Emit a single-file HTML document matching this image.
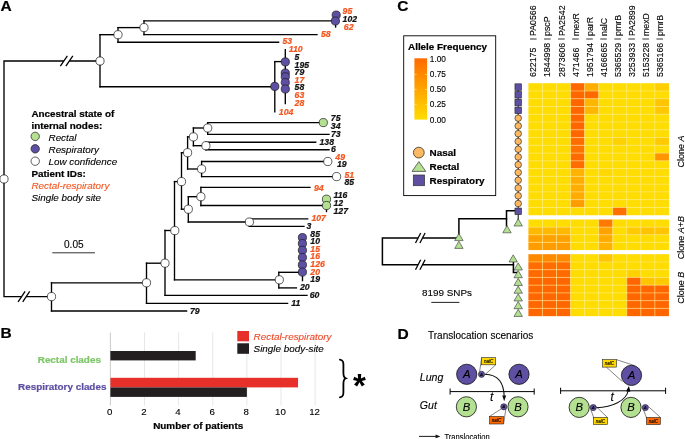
<!DOCTYPE html>
<html><head><meta charset="utf-8"><title>Figure</title>
<style>
html,body{margin:0;padding:0;background:#fff;}
body{width:685px;height:439px;overflow:hidden;}
svg{display:block;font-family:"Liberation Sans",sans-serif;will-change:transform;}
text{stroke-width:0.12px;} text[font-weight=bold]{stroke-width:0.22px;}
</style></head><body>
<svg width="685" height="439" viewBox="0 0 685 439">
<rect width="685" height="439" fill="#fff"/>
<text x="0.6" y="11.4" font-size="15.5" font-weight="bold" font-style="normal" fill="#000" stroke="#000" text-anchor="start" >A</text>
<polyline points="100,61 4,61 4,296.6 51.5,296.6" fill="none" stroke="#000" stroke-width="1.35" stroke-linejoin="miter" stroke-linecap="square"/>
<polyline points="100,34.7 100,86.7" fill="none" stroke="#000" stroke-width="1.35" stroke-linejoin="miter" stroke-linecap="square"/>
<polyline points="100,34.7 118,34.7" fill="none" stroke="#000" stroke-width="1.35" stroke-linejoin="miter" stroke-linecap="square"/>
<polyline points="118,27.6 118,42.2" fill="none" stroke="#000" stroke-width="1.35" stroke-linejoin="miter" stroke-linecap="square"/>
<polyline points="118,27.6 144,27.6" fill="none" stroke="#000" stroke-width="1.35" stroke-linejoin="miter" stroke-linecap="square"/>
<polyline points="144,20.8 144,34.6" fill="none" stroke="#000" stroke-width="1.35" stroke-linejoin="miter" stroke-linecap="square"/>
<polyline points="144,20.8 332,20.8" fill="none" stroke="#000" stroke-width="1.35" stroke-linejoin="miter" stroke-linecap="square"/>
<polyline points="144,34.6 317,34.6" fill="none" stroke="#000" stroke-width="1.35" stroke-linejoin="miter" stroke-linecap="square"/>
<polyline points="118,42.2 278.6,42.2" fill="none" stroke="#000" stroke-width="1.35" stroke-linejoin="miter" stroke-linecap="square"/>
<polyline points="100,86.7 274.8,86.7" fill="none" stroke="#000" stroke-width="1.35" stroke-linejoin="miter" stroke-linecap="square"/>
<polyline points="274.8,61.6 274.8,111.8" fill="none" stroke="#000" stroke-width="1.35" stroke-linejoin="miter" stroke-linecap="square"/>
<polyline points="274.8,61.6 285.3,61.6" fill="none" stroke="#000" stroke-width="1.35" stroke-linejoin="miter" stroke-linecap="square"/>
<polyline points="285.3,49.6 285.3,103.6" fill="none" stroke="#000" stroke-width="1.35" stroke-linejoin="miter" stroke-linecap="square"/>
<polyline points="335.6,14.6 335.6,27" fill="none" stroke="#000" stroke-width="1.35" stroke-linejoin="miter" stroke-linecap="square"/>
<rect x="63.849999999999994" y="59.5" width="5.5" height="3" fill="#fff"/>
<line x1="60.349999999999994" y1="66.2" x2="67.35" y2="55.8" stroke="#000" stroke-width="1.3"/>
<line x1="65.85" y1="66.2" x2="72.85" y2="55.8" stroke="#000" stroke-width="1.3"/>
<circle cx="100" cy="61" r="4.1" fill="#fff" stroke="#1a1a1a" stroke-width="0.7"/>
<circle cx="118" cy="34.7" r="4.1" fill="#fff" stroke="#1a1a1a" stroke-width="0.7"/>
<circle cx="144" cy="27.6" r="4.1" fill="#fff" stroke="#1a1a1a" stroke-width="0.7"/>
<circle cx="336.2" cy="15.1" r="4.1" fill="#5e4fa2" stroke="#1a1a1a" stroke-width="0.7"/>
<circle cx="335.4" cy="21" r="4.1" fill="#5e4fa2" stroke="#1a1a1a" stroke-width="0.7"/>
<circle cx="285.3" cy="61.9" r="4.1" fill="#5e4fa2" stroke="#1a1a1a" stroke-width="0.7"/>
<circle cx="285.3" cy="73" r="4.1" fill="#5e4fa2" stroke="#1a1a1a" stroke-width="0.7"/>
<circle cx="285.3" cy="76.8" r="4.1" fill="#5e4fa2" stroke="#1a1a1a" stroke-width="0.7"/>
<circle cx="285.3" cy="82.6" r="4.1" fill="#5e4fa2" stroke="#1a1a1a" stroke-width="0.7"/>
<circle cx="285.3" cy="89" r="4.1" fill="#5e4fa2" stroke="#1a1a1a" stroke-width="0.7"/>
<circle cx="274.8" cy="86.4" r="4.1" fill="#5e4fa2" stroke="#1a1a1a" stroke-width="0.7"/>
<text x="342.6" y="13.700000000000001" font-size="8.7" font-weight="bold" font-style="italic" fill="#f4561f" stroke="#f4561f" text-anchor="start" >95</text>
<text x="342.6" y="21.9" font-size="8.7" font-weight="bold" font-style="italic" fill="#111" stroke="#111" text-anchor="start" >102</text>
<text x="343.8" y="30.2" font-size="8.7" font-weight="bold" font-style="italic" fill="#f4561f" stroke="#f4561f" text-anchor="start" >62</text>
<text x="321" y="37.0" font-size="8.7" font-weight="bold" font-style="italic" fill="#f4561f" stroke="#f4561f" text-anchor="start" >58</text>
<text x="282.4" y="44.4" font-size="8.7" font-weight="bold" font-style="italic" fill="#f4561f" stroke="#f4561f" text-anchor="start" >53</text>
<text x="288.8" y="52.4" font-size="8.7" font-weight="bold" font-style="italic" fill="#f4561f" stroke="#f4561f" text-anchor="start" >110</text>
<text x="294.6" y="59.699999999999996" font-size="8.7" font-weight="bold" font-style="italic" fill="#111" stroke="#111" text-anchor="start" >5</text>
<text x="294.6" y="67.60000000000001" font-size="8.7" font-weight="bold" font-style="italic" fill="#111" stroke="#111" text-anchor="start" >195</text>
<text x="294.6" y="75.0" font-size="8.7" font-weight="bold" font-style="italic" fill="#111" stroke="#111" text-anchor="start" >79</text>
<text x="294.6" y="82.60000000000001" font-size="8.7" font-weight="bold" font-style="italic" fill="#f4561f" stroke="#f4561f" text-anchor="start" >17</text>
<text x="294.6" y="90.4" font-size="8.7" font-weight="bold" font-style="italic" fill="#111" stroke="#111" text-anchor="start" >58</text>
<text x="294.6" y="98.2" font-size="8.7" font-weight="bold" font-style="italic" fill="#f4561f" stroke="#f4561f" text-anchor="start" >63</text>
<text x="294.6" y="105.80000000000001" font-size="8.7" font-weight="bold" font-style="italic" fill="#f4561f" stroke="#f4561f" text-anchor="start" >28</text>
<text x="278.8" y="114.60000000000001" font-size="8.7" font-weight="bold" font-style="italic" fill="#f4561f" stroke="#f4561f" text-anchor="start" >104</text>
<polyline points="51.5,282.8 51.5,311" fill="none" stroke="#000" stroke-width="1.35" stroke-linejoin="miter" stroke-linecap="square"/>
<polyline points="51.5,282.8 146.5,282.8" fill="none" stroke="#000" stroke-width="1.35" stroke-linejoin="miter" stroke-linecap="square"/>
<polyline points="51.5,311 186.6,311" fill="none" stroke="#000" stroke-width="1.35" stroke-linejoin="miter" stroke-linecap="square"/>
<polyline points="146.5,263.2 146.5,303.3" fill="none" stroke="#000" stroke-width="1.35" stroke-linejoin="miter" stroke-linecap="square"/>
<polyline points="146.5,263.2 165,263.2" fill="none" stroke="#000" stroke-width="1.35" stroke-linejoin="miter" stroke-linecap="square"/>
<polyline points="146.5,303.3 287.6,303.3" fill="none" stroke="#000" stroke-width="1.35" stroke-linejoin="miter" stroke-linecap="square"/>
<polyline points="165,230.5 165,295.4" fill="none" stroke="#000" stroke-width="1.35" stroke-linejoin="miter" stroke-linecap="square"/>
<polyline points="165,230.5 174.5,230.5" fill="none" stroke="#000" stroke-width="1.35" stroke-linejoin="miter" stroke-linecap="square"/>
<polyline points="165,295.4 307,295.4" fill="none" stroke="#000" stroke-width="1.35" stroke-linejoin="miter" stroke-linecap="square"/>
<polyline points="174.5,181.6 174.5,279.8" fill="none" stroke="#000" stroke-width="1.35" stroke-linejoin="miter" stroke-linecap="square"/>
<polyline points="174.5,279.8 279,279.8" fill="none" stroke="#000" stroke-width="1.35" stroke-linejoin="miter" stroke-linecap="square"/>
<polyline points="278.8,272.3 278.8,287.9" fill="none" stroke="#000" stroke-width="1.35" stroke-linejoin="miter" stroke-linecap="square"/>
<polyline points="278.8,272.3 302.5,272.3" fill="none" stroke="#000" stroke-width="1.35" stroke-linejoin="miter" stroke-linecap="square"/>
<polyline points="302.5,237 302.5,280.6" fill="none" stroke="#000" stroke-width="1.35" stroke-linejoin="miter" stroke-linecap="square"/>
<polyline points="278.8,287.9 296.4,287.9" fill="none" stroke="#000" stroke-width="1.35" stroke-linejoin="miter" stroke-linecap="square"/>
<polyline points="174.5,181.6 181.5,181.6" fill="none" stroke="#000" stroke-width="1.35" stroke-linejoin="miter" stroke-linecap="square"/>
<polyline points="181.5,152.7 181.5,209.2" fill="none" stroke="#000" stroke-width="1.35" stroke-linejoin="miter" stroke-linecap="square"/>
<polyline points="181.5,152.7 187.6,152.7" fill="none" stroke="#000" stroke-width="1.35" stroke-linejoin="miter" stroke-linecap="square"/>
<polyline points="187.6,136.9 187.6,169" fill="none" stroke="#000" stroke-width="1.35" stroke-linejoin="miter" stroke-linecap="square"/>
<polyline points="187.6,136.9 193.4,136.9" fill="none" stroke="#000" stroke-width="1.35" stroke-linejoin="miter" stroke-linecap="square"/>
<polyline points="193.4,128 193.4,145.7" fill="none" stroke="#000" stroke-width="1.35" stroke-linejoin="miter" stroke-linecap="square"/>
<polyline points="193.4,128 207.7,128" fill="none" stroke="#000" stroke-width="1.35" stroke-linejoin="miter" stroke-linecap="square"/>
<polyline points="207.7,122.6 207.7,134.4" fill="none" stroke="#000" stroke-width="1.35" stroke-linejoin="miter" stroke-linecap="square"/>
<polyline points="207.7,122.6 323,122.6" fill="none" stroke="#000" stroke-width="1.35" stroke-linejoin="miter" stroke-linecap="square"/>
<polyline points="207.7,134.4 329,134.4" fill="none" stroke="#000" stroke-width="1.35" stroke-linejoin="miter" stroke-linecap="square"/>
<polyline points="193.4,145.7 205.9,145.7" fill="none" stroke="#000" stroke-width="1.35" stroke-linejoin="miter" stroke-linecap="square"/>
<polyline points="205.9,142.2 205.9,149.7" fill="none" stroke="#000" stroke-width="1.35" stroke-linejoin="miter" stroke-linecap="square"/>
<polyline points="205.9,142.2 315.7,142.2" fill="none" stroke="#000" stroke-width="1.35" stroke-linejoin="miter" stroke-linecap="square"/>
<polyline points="205.9,149.7 329,149.7" fill="none" stroke="#000" stroke-width="1.35" stroke-linejoin="miter" stroke-linecap="square"/>
<polyline points="187.6,169 201.6,169" fill="none" stroke="#000" stroke-width="1.35" stroke-linejoin="miter" stroke-linecap="square"/>
<polyline points="201.6,161.5 201.6,176.6" fill="none" stroke="#000" stroke-width="1.35" stroke-linejoin="miter" stroke-linecap="square"/>
<polyline points="201.6,161.5 327.8,161.5" fill="none" stroke="#000" stroke-width="1.35" stroke-linejoin="miter" stroke-linecap="square"/>
<polyline points="201.6,176.6 336.6,176.6" fill="none" stroke="#000" stroke-width="1.35" stroke-linejoin="miter" stroke-linecap="square"/>
<polyline points="181.5,209.2 188.3,209.2" fill="none" stroke="#000" stroke-width="1.35" stroke-linejoin="miter" stroke-linecap="square"/>
<polyline points="188.3,196.7 188.3,222" fill="none" stroke="#000" stroke-width="1.35" stroke-linejoin="miter" stroke-linecap="square"/>
<polyline points="188.3,196.7 200.9,196.7" fill="none" stroke="#000" stroke-width="1.35" stroke-linejoin="miter" stroke-linecap="square"/>
<polyline points="200.9,187.4 200.9,205.5" fill="none" stroke="#000" stroke-width="1.35" stroke-linejoin="miter" stroke-linecap="square"/>
<polyline points="200.9,187.4 310,187.4" fill="none" stroke="#000" stroke-width="1.35" stroke-linejoin="miter" stroke-linecap="square"/>
<polyline points="200.9,205.5 326.5,205.5" fill="none" stroke="#000" stroke-width="1.35" stroke-linejoin="miter" stroke-linecap="square"/>
<polyline points="326.5,199 326.5,211.5" fill="none" stroke="#000" stroke-width="1.35" stroke-linejoin="miter" stroke-linecap="square"/>
<polyline points="188.3,222 249.4,222" fill="none" stroke="#000" stroke-width="1.35" stroke-linejoin="miter" stroke-linecap="square"/>
<polyline points="249.4,218.8 249.4,226.3" fill="none" stroke="#000" stroke-width="1.35" stroke-linejoin="miter" stroke-linecap="square"/>
<polyline points="249.4,218.8 307.7,218.8" fill="none" stroke="#000" stroke-width="1.35" stroke-linejoin="miter" stroke-linecap="square"/>
<polyline points="249.4,226.3 304,226.3" fill="none" stroke="#000" stroke-width="1.35" stroke-linejoin="miter" stroke-linecap="square"/>
<rect x="21.599999999999998" y="295.1" width="4.6" height="3" fill="#fff"/>
<line x1="18.099999999999998" y1="301.8" x2="25.099999999999998" y2="291.40000000000003" stroke="#000" stroke-width="1.3"/>
<line x1="22.7" y1="301.8" x2="29.7" y2="291.40000000000003" stroke="#000" stroke-width="1.3"/>
<circle cx="4" cy="179" r="4.1" fill="#fff" stroke="#1a1a1a" stroke-width="0.7"/>
<circle cx="51.5" cy="296.6" r="4.1" fill="#fff" stroke="#1a1a1a" stroke-width="0.7"/>
<circle cx="146.5" cy="282.8" r="4.1" fill="#fff" stroke="#1a1a1a" stroke-width="0.7"/>
<circle cx="165" cy="263.2" r="4.1" fill="#fff" stroke="#1a1a1a" stroke-width="0.7"/>
<circle cx="174.8" cy="230.6" r="4.1" fill="#fff" stroke="#1a1a1a" stroke-width="0.7"/>
<circle cx="279.3" cy="279.8" r="4.1" fill="#fff" stroke="#1a1a1a" stroke-width="0.7"/>
<circle cx="181.5" cy="181.6" r="4.1" fill="#fff" stroke="#1a1a1a" stroke-width="0.7"/>
<circle cx="187.6" cy="152.7" r="4.1" fill="#fff" stroke="#1a1a1a" stroke-width="0.7"/>
<circle cx="193.4" cy="136.9" r="4.1" fill="#fff" stroke="#1a1a1a" stroke-width="0.7"/>
<circle cx="207.7" cy="128" r="4.1" fill="#fff" stroke="#1a1a1a" stroke-width="0.7"/>
<circle cx="205.9" cy="145.7" r="4.1" fill="#fff" stroke="#1a1a1a" stroke-width="0.7"/>
<circle cx="201.6" cy="169" r="4.1" fill="#fff" stroke="#1a1a1a" stroke-width="0.7"/>
<circle cx="188.3" cy="209.2" r="4.1" fill="#fff" stroke="#1a1a1a" stroke-width="0.7"/>
<circle cx="200.9" cy="196.7" r="4.1" fill="#fff" stroke="#1a1a1a" stroke-width="0.7"/>
<circle cx="249.4" cy="222" r="4.1" fill="#fff" stroke="#1a1a1a" stroke-width="0.7"/>
<circle cx="323.3" cy="122.6" r="4.1" fill="#b4e092" stroke="#1a1a1a" stroke-width="0.7"/>
<circle cx="327.8" cy="161.5" r="4.1" fill="#fff" stroke="#1a1a1a" stroke-width="0.7"/>
<circle cx="336.6" cy="176.6" r="4.1" fill="#fff" stroke="#1a1a1a" stroke-width="0.7"/>
<circle cx="326.5" cy="199.2" r="4.1" fill="#b4e092" stroke="#1a1a1a" stroke-width="0.7"/>
<circle cx="326.5" cy="205.5" r="4.1" fill="#b4e092" stroke="#1a1a1a" stroke-width="0.7"/>
<circle cx="302.4" cy="237.6" r="4.1" fill="#5e4fa2" stroke="#1a1a1a" stroke-width="0.7"/>
<circle cx="302.4" cy="243.6" r="4.1" fill="#5e4fa2" stroke="#1a1a1a" stroke-width="0.7"/>
<circle cx="302.4" cy="250.3" r="4.1" fill="#5e4fa2" stroke="#1a1a1a" stroke-width="0.7"/>
<circle cx="302.4" cy="257.5" r="4.1" fill="#5e4fa2" stroke="#1a1a1a" stroke-width="0.7"/>
<circle cx="302.4" cy="264.9" r="4.1" fill="#5e4fa2" stroke="#1a1a1a" stroke-width="0.7"/>
<circle cx="302.4" cy="272.1" r="4.1" fill="#5e4fa2" stroke="#1a1a1a" stroke-width="0.7"/>
<text x="330.8" y="120.80000000000001" font-size="8.7" font-weight="bold" font-style="italic" fill="#111" stroke="#111" text-anchor="start" >75</text>
<text x="330.8" y="128.9" font-size="8.7" font-weight="bold" font-style="italic" fill="#111" stroke="#111" text-anchor="start" >34</text>
<text x="331" y="136.6" font-size="8.7" font-weight="bold" font-style="italic" fill="#111" stroke="#111" text-anchor="start" >73</text>
<text x="319.5" y="144.6" font-size="8.7" font-weight="bold" font-style="italic" fill="#111" stroke="#111" text-anchor="start" >138</text>
<text x="331" y="152.4" font-size="8.7" font-weight="bold" font-style="italic" fill="#111" stroke="#111" text-anchor="start" >6</text>
<text x="335.3" y="159.9" font-size="8.7" font-weight="bold" font-style="italic" fill="#f4561f" stroke="#f4561f" text-anchor="start" >49</text>
<text x="337" y="167.4" font-size="8.7" font-weight="bold" font-style="italic" fill="#111" stroke="#111" text-anchor="start" >19</text>
<text x="344.4" y="177.8" font-size="8.7" font-weight="bold" font-style="italic" fill="#f4561f" stroke="#f4561f" text-anchor="start" >51</text>
<text x="344.4" y="185.20000000000002" font-size="8.7" font-weight="bold" font-style="italic" fill="#111" stroke="#111" text-anchor="start" >85</text>
<text x="314" y="190.8" font-size="8.7" font-weight="bold" font-style="italic" fill="#f4561f" stroke="#f4561f" text-anchor="start" >94</text>
<text x="333.5" y="198.0" font-size="8.7" font-weight="bold" font-style="italic" fill="#111" stroke="#111" text-anchor="start" >116</text>
<text x="333.5" y="205.9" font-size="8.7" font-weight="bold" font-style="italic" fill="#111" stroke="#111" text-anchor="start" >12</text>
<text x="333.5" y="213.8" font-size="8.7" font-weight="bold" font-style="italic" fill="#111" stroke="#111" text-anchor="start" >127</text>
<text x="311.4" y="221.0" font-size="8.7" font-weight="bold" font-style="italic" fill="#f4561f" stroke="#f4561f" text-anchor="start" >107</text>
<text x="306.4" y="229.0" font-size="8.7" font-weight="bold" font-style="italic" fill="#111" stroke="#111" text-anchor="start" >3</text>
<text x="310.3" y="236.70000000000002" font-size="8.7" font-weight="bold" font-style="italic" fill="#111" stroke="#111" text-anchor="start" >85</text>
<text x="310.3" y="244.28000000000003" font-size="8.7" font-weight="bold" font-style="italic" fill="#111" stroke="#111" text-anchor="start" >10</text>
<text x="310.3" y="251.86" font-size="8.7" font-weight="bold" font-style="italic" fill="#f4561f" stroke="#f4561f" text-anchor="start" >15</text>
<text x="310.3" y="259.44" font-size="8.7" font-weight="bold" font-style="italic" fill="#f4561f" stroke="#f4561f" text-anchor="start" >16</text>
<text x="310.3" y="267.02" font-size="8.7" font-weight="bold" font-style="italic" fill="#f4561f" stroke="#f4561f" text-anchor="start" >126</text>
<text x="310.3" y="274.59999999999997" font-size="8.7" font-weight="bold" font-style="italic" fill="#f4561f" stroke="#f4561f" text-anchor="start" >20</text>
<text x="310.3" y="282.18" font-size="8.7" font-weight="bold" font-style="italic" fill="#111" stroke="#111" text-anchor="start" >19</text>
<text x="300" y="290.0" font-size="8.7" font-weight="bold" font-style="italic" fill="#111" stroke="#111" text-anchor="start" >20</text>
<text x="309.7" y="298.4" font-size="8.7" font-weight="bold" font-style="italic" fill="#111" stroke="#111" text-anchor="start" >60</text>
<text x="291.3" y="306.0" font-size="8.7" font-weight="bold" font-style="italic" fill="#111" stroke="#111" text-anchor="start" >11</text>
<text x="190" y="313.9" font-size="8.7" font-weight="bold" font-style="italic" fill="#111" stroke="#111" text-anchor="start" >79</text>
<text x="31.4" y="116.8" font-size="9.9" font-weight="bold" font-style="normal" fill="#000" stroke="#000" text-anchor="start" >Ancestral state of</text>
<text x="31.4" y="128.8" font-size="9.9" font-weight="bold" font-style="normal" fill="#000" stroke="#000" text-anchor="start" >internal nodes:</text>
<circle cx="35.2" cy="136.4" r="4.2" fill="#b4e092" stroke="#1a1a1a" stroke-width="0.7"/>
<text x="48.5" y="140.6" font-size="9.9" font-weight="normal" font-style="italic" fill="#000" stroke="#000" text-anchor="start" >Rectal</text>
<circle cx="35.2" cy="148.8" r="4.2" fill="#5e4fa2" stroke="#1a1a1a" stroke-width="0.7"/>
<text x="48.5" y="152.7" font-size="9.9" font-weight="normal" font-style="italic" fill="#000" stroke="#000" text-anchor="start" >Respiratory</text>
<circle cx="35.2" cy="161.2" r="4.2" fill="#fff" stroke="#1a1a1a" stroke-width="0.7"/>
<text x="48.5" y="164.8" font-size="9.9" font-weight="normal" font-style="italic" fill="#000" stroke="#000" text-anchor="start" >Low confidence</text>
<text x="31.4" y="176.8" font-size="9.9" font-weight="bold" font-style="normal" fill="#000" stroke="#000" text-anchor="start" >Patient IDs:</text>
<text x="31.4" y="188.6" font-size="9.9" font-weight="normal" font-style="italic" fill="#f4561f" stroke="#f4561f" text-anchor="start" >Rectal-respiratory</text>
<text x="31.4" y="200.6" font-size="9.9" font-weight="normal" font-style="italic" fill="#000" stroke="#000" text-anchor="start" >Single body site</text>
<text x="73.8" y="248.2" font-size="10.1" font-weight="normal" font-style="normal" fill="#000" stroke="#000" text-anchor="middle" >0.05</text>
<line x1="52.3" y1="252.8" x2="95" y2="252.8" stroke="#333" stroke-width="1.0"/>
<text x="0.6" y="338.4" font-size="15.5" font-weight="bold" font-style="normal" fill="#000" stroke="#000" text-anchor="start" >B</text>
<line x1="110.4" y1="332.5" x2="110.4" y2="405.5" stroke="#b4b4b4" stroke-width="0.7"/>
<text x="109.80000000000001" y="414.8" font-size="9.7" font-weight="normal" font-style="normal" fill="#000" stroke="#000" text-anchor="middle" >0</text>
<line x1="144.52" y1="332.5" x2="144.52" y2="405.5" stroke="#dcdcdc" stroke-width="0.7"/>
<text x="143.92000000000002" y="414.8" font-size="9.7" font-weight="normal" font-style="normal" fill="#000" stroke="#000" text-anchor="middle" >2</text>
<line x1="178.64" y1="332.5" x2="178.64" y2="405.5" stroke="#dcdcdc" stroke-width="0.7"/>
<text x="178.04" y="414.8" font-size="9.7" font-weight="normal" font-style="normal" fill="#000" stroke="#000" text-anchor="middle" >4</text>
<line x1="212.76" y1="332.5" x2="212.76" y2="405.5" stroke="#dcdcdc" stroke-width="0.7"/>
<text x="212.16" y="414.8" font-size="9.7" font-weight="normal" font-style="normal" fill="#000" stroke="#000" text-anchor="middle" >6</text>
<line x1="246.88" y1="332.5" x2="246.88" y2="405.5" stroke="#dcdcdc" stroke-width="0.7"/>
<text x="246.28" y="414.8" font-size="9.7" font-weight="normal" font-style="normal" fill="#000" stroke="#000" text-anchor="middle" >8</text>
<line x1="281.0" y1="332.5" x2="281.0" y2="405.5" stroke="#dcdcdc" stroke-width="0.7"/>
<text x="280.4" y="414.8" font-size="9.7" font-weight="normal" font-style="normal" fill="#000" stroke="#000" text-anchor="middle" >10</text>
<line x1="315.12" y1="332.5" x2="315.12" y2="405.5" stroke="#dcdcdc" stroke-width="0.7"/>
<text x="314.52" y="414.8" font-size="9.7" font-weight="normal" font-style="normal" fill="#000" stroke="#000" text-anchor="middle" >12</text>
<rect x="110.4" y="351" width="85.3" height="9.4" fill="#231f20"/>
<rect x="110.4" y="377.8" width="187.66" height="9.6" fill="#e8302a"/>
<rect x="110.4" y="387.4" width="136.48" height="9.5" fill="#231f20"/>
<text x="100.9" y="363.1" font-size="9.9" font-weight="bold" font-style="normal" fill="#7dc768" stroke="#7dc768" text-anchor="end" >Rectal clades</text>
<text x="106.4" y="390" font-size="9.9" font-weight="bold" font-style="normal" fill="#5e4fa2" stroke="#5e4fa2" text-anchor="end" >Respiratory clades</text>
<text x="198.2" y="429" font-size="9.9" font-weight="bold" font-style="normal" fill="#000" stroke="#000" text-anchor="middle" >Number of patients</text>
<rect x="237.3" y="331" width="11.7" height="10.3" fill="#e8302a"/>
<rect x="237.3" y="343.3" width="11.7" height="10.5" fill="#231f20"/>
<text x="253.6" y="339.8" font-size="9.9" font-weight="normal" font-style="italic" fill="#ee4a2a" stroke="#ee4a2a" text-anchor="start" >Rectal-respiratory</text>
<text x="253.6" y="352.4" font-size="9.9" font-weight="normal" font-style="italic" fill="#000" stroke="#000" text-anchor="start" >Single body-site</text>
<path d="M339.9,359.7 C344.2,360.3 343.4,364 343.4,369 L343.4,372.6 C343.4,376.2 344.0,377.7 345.6,378.3 C344.0,378.9 343.4,380.4 343.4,384 L343.4,388 C343.4,393 344.2,396.7 339.9,397.3" fill="none" stroke="#000" stroke-width="1.8" stroke-linecap="round"/>
<text x="359.3" y="396.6" font-size="33" font-weight="bold" font-style="normal" fill="#000" stroke="#000" text-anchor="middle" style="stroke-width:0">*</text>
<text x="397.2" y="11.4" font-size="15.5" font-weight="bold" font-style="normal" fill="#000" stroke="#000" text-anchor="start" >C</text>
<rect x="403.7" y="35.8" width="92" height="159.8" fill="#fff" stroke="#000" stroke-width="0.9"/>
<text x="408" y="49.8" font-size="9.9" font-weight="bold" font-style="normal" fill="#000" stroke="#000" text-anchor="start" >Allele Frequency</text>
<defs><linearGradient id="g" x1="0" y1="0" x2="0" y2="1"><stop offset="0" stop-color="#ff6a00"/><stop offset="1" stop-color="#ffdd00"/></linearGradient></defs>
<rect x="414.4" y="58.3" width="12.7" height="61.3" fill="url(#g)"/>
<text x="429.8" y="62.099999999999994" font-size="8.3" font-weight="normal" font-style="normal" fill="#000" stroke="#000" text-anchor="start" >1.00</text>
<text x="429.8" y="77.19999999999999" font-size="8.3" font-weight="normal" font-style="normal" fill="#000" stroke="#000" text-anchor="start" >0.75</text>
<line x1="414.4" y1="74.39999999999999" x2="416.6" y2="74.39999999999999" stroke="#ffe9a0" stroke-width="0.6"/>
<line x1="424.9" y1="74.39999999999999" x2="427.1" y2="74.39999999999999" stroke="#ffe9a0" stroke-width="0.6"/>
<text x="429.8" y="92.3" font-size="8.3" font-weight="normal" font-style="normal" fill="#000" stroke="#000" text-anchor="start" >0.50</text>
<line x1="414.4" y1="89.5" x2="416.6" y2="89.5" stroke="#ffe9a0" stroke-width="0.6"/>
<line x1="424.9" y1="89.5" x2="427.1" y2="89.5" stroke="#ffe9a0" stroke-width="0.6"/>
<text x="429.8" y="107.39999999999999" font-size="8.3" font-weight="normal" font-style="normal" fill="#000" stroke="#000" text-anchor="start" >0.25</text>
<line x1="414.4" y1="104.6" x2="416.6" y2="104.6" stroke="#ffe9a0" stroke-width="0.6"/>
<line x1="424.9" y1="104.6" x2="427.1" y2="104.6" stroke="#ffe9a0" stroke-width="0.6"/>
<text x="429.8" y="122.49999999999999" font-size="8.3" font-weight="normal" font-style="normal" fill="#000" stroke="#000" text-anchor="start" >0.00</text>
<circle cx="418.8" cy="152.6" r="5.4" fill="#fdb863" stroke="#1a1a1a" stroke-width="0.7"/>
<text x="429.6" y="156.4" font-size="9.9" font-weight="bold" font-style="normal" fill="#000" stroke="#000" text-anchor="start" >Nasal</text>
<polygon points="418.9,161.6 425.8,171.4 412,171.4" fill="#b4e092" stroke="#333" stroke-width="0.7"/>
<text x="429.6" y="170" font-size="9.9" font-weight="bold" font-style="normal" fill="#000" stroke="#000" text-anchor="start" >Rectal</text>
<rect x="413.3" y="175" width="11.3" height="10.7" fill="#5e4fa2" stroke="#333" stroke-width="0.7"/>
<text x="429.6" y="183.9" font-size="9.9" font-weight="bold" font-style="normal" fill="#000" stroke="#000" text-anchor="start" >Respiratory</text>
<rect x="528.40" y="83.20" width="14.10" height="7.81" fill="#ffdd00"/>
<rect x="542.45" y="83.20" width="14.10" height="7.81" fill="#ffdd00"/>
<rect x="556.50" y="83.20" width="14.10" height="7.81" fill="#ffdd00"/>
<rect x="570.55" y="83.20" width="14.10" height="7.81" fill="#ff6600"/>
<rect x="584.60" y="83.20" width="14.10" height="7.81" fill="#ffad00"/>
<rect x="598.65" y="83.20" width="14.10" height="7.81" fill="#ffdd00"/>
<rect x="612.70" y="83.20" width="14.10" height="7.81" fill="#ffdd00"/>
<rect x="626.75" y="83.20" width="14.10" height="7.81" fill="#ffdd00"/>
<rect x="640.80" y="83.20" width="14.10" height="7.81" fill="#ffdd00"/>
<rect x="654.85" y="83.20" width="14.10" height="7.81" fill="#ffcf00"/>
<rect x="528.40" y="90.96" width="14.10" height="7.81" fill="#ffdd00"/>
<rect x="542.45" y="90.96" width="14.10" height="7.81" fill="#ffdd00"/>
<rect x="556.50" y="90.96" width="14.10" height="7.81" fill="#ffdd00"/>
<rect x="570.55" y="90.96" width="14.10" height="7.81" fill="#ff6600"/>
<rect x="584.60" y="90.96" width="14.10" height="7.81" fill="#ff6a00"/>
<rect x="598.65" y="90.96" width="14.10" height="7.81" fill="#ffdd00"/>
<rect x="612.70" y="90.96" width="14.10" height="7.81" fill="#ffdd00"/>
<rect x="626.75" y="90.96" width="14.10" height="7.81" fill="#ffdd00"/>
<rect x="640.80" y="90.96" width="14.10" height="7.81" fill="#ffdd00"/>
<rect x="654.85" y="90.96" width="14.10" height="7.81" fill="#ffdd00"/>
<rect x="528.40" y="98.73" width="14.10" height="7.81" fill="#ffdd00"/>
<rect x="542.45" y="98.73" width="14.10" height="7.81" fill="#ffdd00"/>
<rect x="556.50" y="98.73" width="14.10" height="7.81" fill="#ffdd00"/>
<rect x="570.55" y="98.73" width="14.10" height="7.81" fill="#ff6600"/>
<rect x="584.60" y="98.73" width="14.10" height="7.81" fill="#ffb600"/>
<rect x="598.65" y="98.73" width="14.10" height="7.81" fill="#ffdd00"/>
<rect x="612.70" y="98.73" width="14.10" height="7.81" fill="#ffdd00"/>
<rect x="626.75" y="98.73" width="14.10" height="7.81" fill="#ffdd00"/>
<rect x="640.80" y="98.73" width="14.10" height="7.81" fill="#ffdd00"/>
<rect x="654.85" y="98.73" width="14.10" height="7.81" fill="#ffc500"/>
<rect x="528.40" y="106.49" width="14.10" height="7.81" fill="#ffdd00"/>
<rect x="542.45" y="106.49" width="14.10" height="7.81" fill="#ffdd00"/>
<rect x="556.50" y="106.49" width="14.10" height="7.81" fill="#ffdd00"/>
<rect x="570.55" y="106.49" width="14.10" height="7.81" fill="#ff6600"/>
<rect x="584.60" y="106.49" width="14.10" height="7.81" fill="#ffb600"/>
<rect x="598.65" y="106.49" width="14.10" height="7.81" fill="#ffdd00"/>
<rect x="612.70" y="106.49" width="14.10" height="7.81" fill="#ffdd00"/>
<rect x="626.75" y="106.49" width="14.10" height="7.81" fill="#ffdd00"/>
<rect x="640.80" y="106.49" width="14.10" height="7.81" fill="#ffdd00"/>
<rect x="654.85" y="106.49" width="14.10" height="7.81" fill="#ffc800"/>
<rect x="528.40" y="114.26" width="14.10" height="7.81" fill="#ffdd00"/>
<rect x="542.45" y="114.26" width="14.10" height="7.81" fill="#ffdd00"/>
<rect x="556.50" y="114.26" width="14.10" height="7.81" fill="#ffdd00"/>
<rect x="570.55" y="114.26" width="14.10" height="7.81" fill="#ff6600"/>
<rect x="584.60" y="114.26" width="14.10" height="7.81" fill="#ffdd00"/>
<rect x="598.65" y="114.26" width="14.10" height="7.81" fill="#ffdd00"/>
<rect x="612.70" y="114.26" width="14.10" height="7.81" fill="#ffdd00"/>
<rect x="626.75" y="114.26" width="14.10" height="7.81" fill="#ffdd00"/>
<rect x="640.80" y="114.26" width="14.10" height="7.81" fill="#ffdd00"/>
<rect x="654.85" y="114.26" width="14.10" height="7.81" fill="#ffdd00"/>
<rect x="528.40" y="122.02" width="14.10" height="7.81" fill="#ffdd00"/>
<rect x="542.45" y="122.02" width="14.10" height="7.81" fill="#ffdd00"/>
<rect x="556.50" y="122.02" width="14.10" height="7.81" fill="#ffdd00"/>
<rect x="570.55" y="122.02" width="14.10" height="7.81" fill="#ff6600"/>
<rect x="584.60" y="122.02" width="14.10" height="7.81" fill="#ffdd00"/>
<rect x="598.65" y="122.02" width="14.10" height="7.81" fill="#ffdd00"/>
<rect x="612.70" y="122.02" width="14.10" height="7.81" fill="#ffdd00"/>
<rect x="626.75" y="122.02" width="14.10" height="7.81" fill="#ffdd00"/>
<rect x="640.80" y="122.02" width="14.10" height="7.81" fill="#ffdd00"/>
<rect x="654.85" y="122.02" width="14.10" height="7.81" fill="#ffdd00"/>
<rect x="528.40" y="129.79" width="14.10" height="7.81" fill="#ffdd00"/>
<rect x="542.45" y="129.79" width="14.10" height="7.81" fill="#ffdd00"/>
<rect x="556.50" y="129.79" width="14.10" height="7.81" fill="#ffdd00"/>
<rect x="570.55" y="129.79" width="14.10" height="7.81" fill="#ff6600"/>
<rect x="584.60" y="129.79" width="14.10" height="7.81" fill="#ffdd00"/>
<rect x="598.65" y="129.79" width="14.10" height="7.81" fill="#ffdd00"/>
<rect x="612.70" y="129.79" width="14.10" height="7.81" fill="#ffdd00"/>
<rect x="626.75" y="129.79" width="14.10" height="7.81" fill="#ffdd00"/>
<rect x="640.80" y="129.79" width="14.10" height="7.81" fill="#ffdd00"/>
<rect x="654.85" y="129.79" width="14.10" height="7.81" fill="#ffdd00"/>
<rect x="528.40" y="137.55" width="14.10" height="7.81" fill="#ffdd00"/>
<rect x="542.45" y="137.55" width="14.10" height="7.81" fill="#ffdd00"/>
<rect x="556.50" y="137.55" width="14.10" height="7.81" fill="#ffdd00"/>
<rect x="570.55" y="137.55" width="14.10" height="7.81" fill="#ff6c00"/>
<rect x="584.60" y="137.55" width="14.10" height="7.81" fill="#ffdd00"/>
<rect x="598.65" y="137.55" width="14.10" height="7.81" fill="#ffdd00"/>
<rect x="612.70" y="137.55" width="14.10" height="7.81" fill="#ffd100"/>
<rect x="626.75" y="137.55" width="14.10" height="7.81" fill="#ffdd00"/>
<rect x="640.80" y="137.55" width="14.10" height="7.81" fill="#ffdd00"/>
<rect x="654.85" y="137.55" width="14.10" height="7.81" fill="#ffcb00"/>
<rect x="528.40" y="145.32" width="14.10" height="7.81" fill="#ffdd00"/>
<rect x="542.45" y="145.32" width="14.10" height="7.81" fill="#ffdd00"/>
<rect x="556.50" y="145.32" width="14.10" height="7.81" fill="#ffdd00"/>
<rect x="570.55" y="145.32" width="14.10" height="7.81" fill="#ff7200"/>
<rect x="584.60" y="145.32" width="14.10" height="7.81" fill="#ffdd00"/>
<rect x="598.65" y="145.32" width="14.10" height="7.81" fill="#ffdd00"/>
<rect x="612.70" y="145.32" width="14.10" height="7.81" fill="#ffdd00"/>
<rect x="626.75" y="145.32" width="14.10" height="7.81" fill="#ffdd00"/>
<rect x="640.80" y="145.32" width="14.10" height="7.81" fill="#ffdd00"/>
<rect x="654.85" y="145.32" width="14.10" height="7.81" fill="#ffdd00"/>
<rect x="528.40" y="153.08" width="14.10" height="7.81" fill="#ffdd00"/>
<rect x="542.45" y="153.08" width="14.10" height="7.81" fill="#ffdd00"/>
<rect x="556.50" y="153.08" width="14.10" height="7.81" fill="#ffdd00"/>
<rect x="570.55" y="153.08" width="14.10" height="7.81" fill="#ff6a00"/>
<rect x="584.60" y="153.08" width="14.10" height="7.81" fill="#ffdd00"/>
<rect x="598.65" y="153.08" width="14.10" height="7.81" fill="#ffdd00"/>
<rect x="612.70" y="153.08" width="14.10" height="7.81" fill="#ffdd00"/>
<rect x="626.75" y="153.08" width="14.10" height="7.81" fill="#ffdd00"/>
<rect x="640.80" y="153.08" width="14.10" height="7.81" fill="#ffdd00"/>
<rect x="654.85" y="153.08" width="14.10" height="7.81" fill="#ff9600"/>
<rect x="528.40" y="160.85" width="14.10" height="7.81" fill="#ffdd00"/>
<rect x="542.45" y="160.85" width="14.10" height="7.81" fill="#ffdd00"/>
<rect x="556.50" y="160.85" width="14.10" height="7.81" fill="#ffdd00"/>
<rect x="570.55" y="160.85" width="14.10" height="7.81" fill="#ff6c00"/>
<rect x="584.60" y="160.85" width="14.10" height="7.81" fill="#ffdd00"/>
<rect x="598.65" y="160.85" width="14.10" height="7.81" fill="#ffdd00"/>
<rect x="612.70" y="160.85" width="14.10" height="7.81" fill="#ffdd00"/>
<rect x="626.75" y="160.85" width="14.10" height="7.81" fill="#ffdd00"/>
<rect x="640.80" y="160.85" width="14.10" height="7.81" fill="#ffdd00"/>
<rect x="654.85" y="160.85" width="14.10" height="7.81" fill="#ffdd00"/>
<rect x="528.40" y="168.61" width="14.10" height="7.81" fill="#ffdd00"/>
<rect x="542.45" y="168.61" width="14.10" height="7.81" fill="#ffdd00"/>
<rect x="556.50" y="168.61" width="14.10" height="7.81" fill="#ffdd00"/>
<rect x="570.55" y="168.61" width="14.10" height="7.81" fill="#ffb300"/>
<rect x="584.60" y="168.61" width="14.10" height="7.81" fill="#ffdd00"/>
<rect x="598.65" y="168.61" width="14.10" height="7.81" fill="#ffd800"/>
<rect x="612.70" y="168.61" width="14.10" height="7.81" fill="#ffdd00"/>
<rect x="626.75" y="168.61" width="14.10" height="7.81" fill="#ffdd00"/>
<rect x="640.80" y="168.61" width="14.10" height="7.81" fill="#ffdd00"/>
<rect x="654.85" y="168.61" width="14.10" height="7.81" fill="#ffdd00"/>
<rect x="528.40" y="176.38" width="14.10" height="7.81" fill="#ffdd00"/>
<rect x="542.45" y="176.38" width="14.10" height="7.81" fill="#ffdd00"/>
<rect x="556.50" y="176.38" width="14.10" height="7.81" fill="#ffdd00"/>
<rect x="570.55" y="176.38" width="14.10" height="7.81" fill="#ffad00"/>
<rect x="584.60" y="176.38" width="14.10" height="7.81" fill="#ffdd00"/>
<rect x="598.65" y="176.38" width="14.10" height="7.81" fill="#ffdd00"/>
<rect x="612.70" y="176.38" width="14.10" height="7.81" fill="#ffdd00"/>
<rect x="626.75" y="176.38" width="14.10" height="7.81" fill="#ffdd00"/>
<rect x="640.80" y="176.38" width="14.10" height="7.81" fill="#ffdd00"/>
<rect x="654.85" y="176.38" width="14.10" height="7.81" fill="#ffdd00"/>
<rect x="528.40" y="184.14" width="14.10" height="7.81" fill="#ffdd00"/>
<rect x="542.45" y="184.14" width="14.10" height="7.81" fill="#ffdd00"/>
<rect x="556.50" y="184.14" width="14.10" height="7.81" fill="#ffdd00"/>
<rect x="570.55" y="184.14" width="14.10" height="7.81" fill="#ffad00"/>
<rect x="584.60" y="184.14" width="14.10" height="7.81" fill="#ffdd00"/>
<rect x="598.65" y="184.14" width="14.10" height="7.81" fill="#ffdd00"/>
<rect x="612.70" y="184.14" width="14.10" height="7.81" fill="#ffdd00"/>
<rect x="626.75" y="184.14" width="14.10" height="7.81" fill="#ffdd00"/>
<rect x="640.80" y="184.14" width="14.10" height="7.81" fill="#ffdd00"/>
<rect x="654.85" y="184.14" width="14.10" height="7.81" fill="#ffdd00"/>
<rect x="528.40" y="191.91" width="14.10" height="7.81" fill="#ffdd00"/>
<rect x="542.45" y="191.91" width="14.10" height="7.81" fill="#ffdd00"/>
<rect x="556.50" y="191.91" width="14.10" height="7.81" fill="#ffdd00"/>
<rect x="570.55" y="191.91" width="14.10" height="7.81" fill="#ffab00"/>
<rect x="584.60" y="191.91" width="14.10" height="7.81" fill="#ffdd00"/>
<rect x="598.65" y="191.91" width="14.10" height="7.81" fill="#ffdd00"/>
<rect x="612.70" y="191.91" width="14.10" height="7.81" fill="#ffdd00"/>
<rect x="626.75" y="191.91" width="14.10" height="7.81" fill="#ffdd00"/>
<rect x="640.80" y="191.91" width="14.10" height="7.81" fill="#ffdd00"/>
<rect x="654.85" y="191.91" width="14.10" height="7.81" fill="#ffdd00"/>
<rect x="528.40" y="199.67" width="14.10" height="7.81" fill="#ffdd00"/>
<rect x="542.45" y="199.67" width="14.10" height="7.81" fill="#ffdd00"/>
<rect x="556.50" y="199.67" width="14.10" height="7.81" fill="#ffdd00"/>
<rect x="570.55" y="199.67" width="14.10" height="7.81" fill="#ff9c00"/>
<rect x="584.60" y="199.67" width="14.10" height="7.81" fill="#ffdd00"/>
<rect x="598.65" y="199.67" width="14.10" height="7.81" fill="#ffdd00"/>
<rect x="612.70" y="199.67" width="14.10" height="7.81" fill="#ffdd00"/>
<rect x="626.75" y="199.67" width="14.10" height="7.81" fill="#ffdd00"/>
<rect x="640.80" y="199.67" width="14.10" height="7.81" fill="#ffdd00"/>
<rect x="654.85" y="199.67" width="14.10" height="7.81" fill="#ffdd00"/>
<rect x="528.40" y="207.44" width="14.10" height="7.81" fill="#ffdd00"/>
<rect x="542.45" y="207.44" width="14.10" height="7.81" fill="#ffdd00"/>
<rect x="556.50" y="207.44" width="14.10" height="7.81" fill="#ffdd00"/>
<rect x="570.55" y="207.44" width="14.10" height="7.81" fill="#ffdd00"/>
<rect x="584.60" y="207.44" width="14.10" height="7.81" fill="#ffdd00"/>
<rect x="598.65" y="207.44" width="14.10" height="7.81" fill="#ffdd00"/>
<rect x="612.70" y="207.44" width="14.10" height="7.81" fill="#ff7000"/>
<rect x="626.75" y="207.44" width="14.10" height="7.81" fill="#ffdd00"/>
<rect x="640.80" y="207.44" width="14.10" height="7.81" fill="#ffdd00"/>
<rect x="654.85" y="207.44" width="14.10" height="7.81" fill="#ffdd00"/>
<line x1="542.45" y1="83.2" x2="542.45" y2="215.2" stroke="#ffeb8a" stroke-width="0.55"/>
<line x1="556.5" y1="83.2" x2="556.5" y2="215.2" stroke="#ffeb8a" stroke-width="0.55"/>
<line x1="570.55" y1="83.2" x2="570.55" y2="215.2" stroke="#ffeb8a" stroke-width="0.55"/>
<line x1="584.6" y1="83.2" x2="584.6" y2="215.2" stroke="#ffeb8a" stroke-width="0.55"/>
<line x1="598.65" y1="83.2" x2="598.65" y2="215.2" stroke="#ffeb8a" stroke-width="0.55"/>
<line x1="612.7" y1="83.2" x2="612.7" y2="215.2" stroke="#ffeb8a" stroke-width="0.55"/>
<line x1="626.75" y1="83.2" x2="626.75" y2="215.2" stroke="#ffeb8a" stroke-width="0.55"/>
<line x1="640.8" y1="83.2" x2="640.8" y2="215.2" stroke="#ffeb8a" stroke-width="0.55"/>
<line x1="654.85" y1="83.2" x2="654.85" y2="215.2" stroke="#ffeb8a" stroke-width="0.55"/>
<line x1="528.4" y1="90.96" x2="668.9" y2="90.96" stroke="#ffeb8a" stroke-width="0.55"/>
<line x1="528.4" y1="98.73" x2="668.9" y2="98.73" stroke="#ffeb8a" stroke-width="0.55"/>
<line x1="528.4" y1="106.49" x2="668.9" y2="106.49" stroke="#ffeb8a" stroke-width="0.55"/>
<line x1="528.4" y1="114.26" x2="668.9" y2="114.26" stroke="#ffeb8a" stroke-width="0.55"/>
<line x1="528.4" y1="122.02" x2="668.9" y2="122.02" stroke="#ffeb8a" stroke-width="0.55"/>
<line x1="528.4" y1="129.79" x2="668.9" y2="129.79" stroke="#ffeb8a" stroke-width="0.55"/>
<line x1="528.4" y1="137.55" x2="668.9" y2="137.55" stroke="#ffeb8a" stroke-width="0.55"/>
<line x1="528.4" y1="145.32" x2="668.9" y2="145.32" stroke="#ffeb8a" stroke-width="0.55"/>
<line x1="528.4" y1="153.08" x2="668.9" y2="153.08" stroke="#ffeb8a" stroke-width="0.55"/>
<line x1="528.4" y1="160.85" x2="668.9" y2="160.85" stroke="#ffeb8a" stroke-width="0.55"/>
<line x1="528.4" y1="168.61" x2="668.9" y2="168.61" stroke="#ffeb8a" stroke-width="0.55"/>
<line x1="528.4" y1="176.38" x2="668.9" y2="176.38" stroke="#ffeb8a" stroke-width="0.55"/>
<line x1="528.4" y1="184.14" x2="668.9" y2="184.14" stroke="#ffeb8a" stroke-width="0.55"/>
<line x1="528.4" y1="191.91" x2="668.9" y2="191.91" stroke="#ffeb8a" stroke-width="0.55"/>
<line x1="528.4" y1="199.67" x2="668.9" y2="199.67" stroke="#ffeb8a" stroke-width="0.55"/>
<line x1="528.4" y1="207.44" x2="668.9" y2="207.44" stroke="#ffeb8a" stroke-width="0.55"/>
<rect x="528.40" y="219.50" width="14.10" height="7.67" fill="#ffdd00"/>
<rect x="542.45" y="219.50" width="14.10" height="7.67" fill="#ffdd00"/>
<rect x="556.50" y="219.50" width="14.10" height="7.67" fill="#ffdd00"/>
<rect x="570.55" y="219.50" width="14.10" height="7.67" fill="#ffdd00"/>
<rect x="584.60" y="219.50" width="14.10" height="7.67" fill="#ffdd00"/>
<rect x="598.65" y="219.50" width="14.10" height="7.67" fill="#ff7800"/>
<rect x="612.70" y="219.50" width="14.10" height="7.67" fill="#ffdd00"/>
<rect x="626.75" y="219.50" width="14.10" height="7.67" fill="#ffdd00"/>
<rect x="640.80" y="219.50" width="14.10" height="7.67" fill="#ffdd00"/>
<rect x="654.85" y="219.50" width="14.10" height="7.67" fill="#ffdd00"/>
<rect x="528.40" y="227.12" width="14.10" height="7.67" fill="#ffb900"/>
<rect x="542.45" y="227.12" width="14.10" height="7.67" fill="#ffb900"/>
<rect x="556.50" y="227.12" width="14.10" height="7.67" fill="#ffb900"/>
<rect x="570.55" y="227.12" width="14.10" height="7.67" fill="#ffdd00"/>
<rect x="584.60" y="227.12" width="14.10" height="7.67" fill="#ffdd00"/>
<rect x="598.65" y="227.12" width="14.10" height="7.67" fill="#ffa200"/>
<rect x="612.70" y="227.12" width="14.10" height="7.67" fill="#ffdd00"/>
<rect x="626.75" y="227.12" width="14.10" height="7.67" fill="#ffcb00"/>
<rect x="640.80" y="227.12" width="14.10" height="7.67" fill="#ffc300"/>
<rect x="654.85" y="227.12" width="14.10" height="7.67" fill="#ffc500"/>
<rect x="528.40" y="234.75" width="14.10" height="7.67" fill="#ffa200"/>
<rect x="542.45" y="234.75" width="14.10" height="7.67" fill="#ffa200"/>
<rect x="556.50" y="234.75" width="14.10" height="7.67" fill="#ffa200"/>
<rect x="570.55" y="234.75" width="14.10" height="7.67" fill="#ffdd00"/>
<rect x="584.60" y="234.75" width="14.10" height="7.67" fill="#ffdd00"/>
<rect x="598.65" y="234.75" width="14.10" height="7.67" fill="#ffab00"/>
<rect x="612.70" y="234.75" width="14.10" height="7.67" fill="#ffdd00"/>
<rect x="626.75" y="234.75" width="14.10" height="7.67" fill="#ffdd00"/>
<rect x="640.80" y="234.75" width="14.10" height="7.67" fill="#ffdd00"/>
<rect x="654.85" y="234.75" width="14.10" height="7.67" fill="#ffdd00"/>
<rect x="528.40" y="242.38" width="14.10" height="7.67" fill="#ff9c00"/>
<rect x="542.45" y="242.38" width="14.10" height="7.67" fill="#ff9c00"/>
<rect x="556.50" y="242.38" width="14.10" height="7.67" fill="#ff9c00"/>
<rect x="570.55" y="242.38" width="14.10" height="7.67" fill="#ffdd00"/>
<rect x="584.60" y="242.38" width="14.10" height="7.67" fill="#ffdd00"/>
<rect x="598.65" y="242.38" width="14.10" height="7.67" fill="#ffb300"/>
<rect x="612.70" y="242.38" width="14.10" height="7.67" fill="#ffdd00"/>
<rect x="626.75" y="242.38" width="14.10" height="7.67" fill="#ffdd00"/>
<rect x="640.80" y="242.38" width="14.10" height="7.67" fill="#ffdd00"/>
<rect x="654.85" y="242.38" width="14.10" height="7.67" fill="#ffdd00"/>
<line x1="542.45" y1="219.5" x2="542.45" y2="250.0" stroke="#ffeb8a" stroke-width="0.55"/>
<line x1="556.5" y1="219.5" x2="556.5" y2="250.0" stroke="#ffeb8a" stroke-width="0.55"/>
<line x1="570.55" y1="219.5" x2="570.55" y2="250.0" stroke="#ffeb8a" stroke-width="0.55"/>
<line x1="584.6" y1="219.5" x2="584.6" y2="250.0" stroke="#ffeb8a" stroke-width="0.55"/>
<line x1="598.65" y1="219.5" x2="598.65" y2="250.0" stroke="#ffeb8a" stroke-width="0.55"/>
<line x1="612.7" y1="219.5" x2="612.7" y2="250.0" stroke="#ffeb8a" stroke-width="0.55"/>
<line x1="626.75" y1="219.5" x2="626.75" y2="250.0" stroke="#ffeb8a" stroke-width="0.55"/>
<line x1="640.8" y1="219.5" x2="640.8" y2="250.0" stroke="#ffeb8a" stroke-width="0.55"/>
<line x1="654.85" y1="219.5" x2="654.85" y2="250.0" stroke="#ffeb8a" stroke-width="0.55"/>
<line x1="528.4" y1="227.12" x2="668.9" y2="227.12" stroke="#ffeb8a" stroke-width="0.55"/>
<line x1="528.4" y1="234.75" x2="668.9" y2="234.75" stroke="#ffeb8a" stroke-width="0.55"/>
<line x1="528.4" y1="242.38" x2="668.9" y2="242.38" stroke="#ffeb8a" stroke-width="0.55"/>
<rect x="528.40" y="254.20" width="14.10" height="7.79" fill="#ff8a00"/>
<rect x="542.45" y="254.20" width="14.10" height="7.79" fill="#ff8a00"/>
<rect x="556.50" y="254.20" width="14.10" height="7.79" fill="#ff8a00"/>
<rect x="570.55" y="254.20" width="14.10" height="7.79" fill="#ffdd00"/>
<rect x="584.60" y="254.20" width="14.10" height="7.79" fill="#ffdd00"/>
<rect x="598.65" y="254.20" width="14.10" height="7.79" fill="#ffc500"/>
<rect x="612.70" y="254.20" width="14.10" height="7.79" fill="#ffdd00"/>
<rect x="626.75" y="254.20" width="14.10" height="7.79" fill="#ffdd00"/>
<rect x="640.80" y="254.20" width="14.10" height="7.79" fill="#ffdd00"/>
<rect x="654.85" y="254.20" width="14.10" height="7.79" fill="#ffdd00"/>
<rect x="528.40" y="261.94" width="14.10" height="7.79" fill="#ff6c00"/>
<rect x="542.45" y="261.94" width="14.10" height="7.79" fill="#ff6c00"/>
<rect x="556.50" y="261.94" width="14.10" height="7.79" fill="#ff6c00"/>
<rect x="570.55" y="261.94" width="14.10" height="7.79" fill="#ffdd00"/>
<rect x="584.60" y="261.94" width="14.10" height="7.79" fill="#ffdd00"/>
<rect x="598.65" y="261.94" width="14.10" height="7.79" fill="#ffdd00"/>
<rect x="612.70" y="261.94" width="14.10" height="7.79" fill="#ffdd00"/>
<rect x="626.75" y="261.94" width="14.10" height="7.79" fill="#ffdd00"/>
<rect x="640.80" y="261.94" width="14.10" height="7.79" fill="#ffdd00"/>
<rect x="654.85" y="261.94" width="14.10" height="7.79" fill="#ffdd00"/>
<rect x="528.40" y="269.68" width="14.10" height="7.79" fill="#ff6a00"/>
<rect x="542.45" y="269.68" width="14.10" height="7.79" fill="#ff6a00"/>
<rect x="556.50" y="269.68" width="14.10" height="7.79" fill="#ff6a00"/>
<rect x="570.55" y="269.68" width="14.10" height="7.79" fill="#ffdd00"/>
<rect x="584.60" y="269.68" width="14.10" height="7.79" fill="#ffdd00"/>
<rect x="598.65" y="269.68" width="14.10" height="7.79" fill="#ffdd00"/>
<rect x="612.70" y="269.68" width="14.10" height="7.79" fill="#ffdd00"/>
<rect x="626.75" y="269.68" width="14.10" height="7.79" fill="#ffd100"/>
<rect x="640.80" y="269.68" width="14.10" height="7.79" fill="#ffdd00"/>
<rect x="654.85" y="269.68" width="14.10" height="7.79" fill="#ffdd00"/>
<rect x="528.40" y="277.41" width="14.10" height="7.79" fill="#ff6600"/>
<rect x="542.45" y="277.41" width="14.10" height="7.79" fill="#ff6600"/>
<rect x="556.50" y="277.41" width="14.10" height="7.79" fill="#ff6600"/>
<rect x="570.55" y="277.41" width="14.10" height="7.79" fill="#ffdd00"/>
<rect x="584.60" y="277.41" width="14.10" height="7.79" fill="#ffdd00"/>
<rect x="598.65" y="277.41" width="14.10" height="7.79" fill="#ffdd00"/>
<rect x="612.70" y="277.41" width="14.10" height="7.79" fill="#ffdd00"/>
<rect x="626.75" y="277.41" width="14.10" height="7.79" fill="#ff6600"/>
<rect x="640.80" y="277.41" width="14.10" height="7.79" fill="#ffc500"/>
<rect x="654.85" y="277.41" width="14.10" height="7.79" fill="#ffcb00"/>
<rect x="528.40" y="285.15" width="14.10" height="7.79" fill="#ff6600"/>
<rect x="542.45" y="285.15" width="14.10" height="7.79" fill="#ff6600"/>
<rect x="556.50" y="285.15" width="14.10" height="7.79" fill="#ff6600"/>
<rect x="570.55" y="285.15" width="14.10" height="7.79" fill="#ffdd00"/>
<rect x="584.60" y="285.15" width="14.10" height="7.79" fill="#ffdd00"/>
<rect x="598.65" y="285.15" width="14.10" height="7.79" fill="#ffdd00"/>
<rect x="612.70" y="285.15" width="14.10" height="7.79" fill="#ffdd00"/>
<rect x="626.75" y="285.15" width="14.10" height="7.79" fill="#ff6600"/>
<rect x="640.80" y="285.15" width="14.10" height="7.79" fill="#ff6600"/>
<rect x="654.85" y="285.15" width="14.10" height="7.79" fill="#ff6600"/>
<rect x="528.40" y="292.89" width="14.10" height="7.79" fill="#ff6600"/>
<rect x="542.45" y="292.89" width="14.10" height="7.79" fill="#ff6600"/>
<rect x="556.50" y="292.89" width="14.10" height="7.79" fill="#ff6600"/>
<rect x="570.55" y="292.89" width="14.10" height="7.79" fill="#ffdd00"/>
<rect x="584.60" y="292.89" width="14.10" height="7.79" fill="#ffdd00"/>
<rect x="598.65" y="292.89" width="14.10" height="7.79" fill="#ffdd00"/>
<rect x="612.70" y="292.89" width="14.10" height="7.79" fill="#ffdd00"/>
<rect x="626.75" y="292.89" width="14.10" height="7.79" fill="#ff6600"/>
<rect x="640.80" y="292.89" width="14.10" height="7.79" fill="#ff6600"/>
<rect x="654.85" y="292.89" width="14.10" height="7.79" fill="#ff6600"/>
<rect x="528.40" y="300.62" width="14.10" height="7.79" fill="#ff6600"/>
<rect x="542.45" y="300.62" width="14.10" height="7.79" fill="#ff6600"/>
<rect x="556.50" y="300.62" width="14.10" height="7.79" fill="#ff6600"/>
<rect x="570.55" y="300.62" width="14.10" height="7.79" fill="#ffdd00"/>
<rect x="584.60" y="300.62" width="14.10" height="7.79" fill="#ffdd00"/>
<rect x="598.65" y="300.62" width="14.10" height="7.79" fill="#ffdd00"/>
<rect x="612.70" y="300.62" width="14.10" height="7.79" fill="#ffdd00"/>
<rect x="626.75" y="300.62" width="14.10" height="7.79" fill="#ff6600"/>
<rect x="640.80" y="300.62" width="14.10" height="7.79" fill="#ff6600"/>
<rect x="654.85" y="300.62" width="14.10" height="7.79" fill="#ff6600"/>
<rect x="528.40" y="308.36" width="14.10" height="7.79" fill="#ff6600"/>
<rect x="542.45" y="308.36" width="14.10" height="7.79" fill="#ff6600"/>
<rect x="556.50" y="308.36" width="14.10" height="7.79" fill="#ff6600"/>
<rect x="570.55" y="308.36" width="14.10" height="7.79" fill="#ffdd00"/>
<rect x="584.60" y="308.36" width="14.10" height="7.79" fill="#ffdd00"/>
<rect x="598.65" y="308.36" width="14.10" height="7.79" fill="#ffdd00"/>
<rect x="612.70" y="308.36" width="14.10" height="7.79" fill="#ffdd00"/>
<rect x="626.75" y="308.36" width="14.10" height="7.79" fill="#ff6600"/>
<rect x="640.80" y="308.36" width="14.10" height="7.79" fill="#ff6600"/>
<rect x="654.85" y="308.36" width="14.10" height="7.79" fill="#ff6600"/>
<line x1="542.45" y1="254.2" x2="542.45" y2="316.1" stroke="#ffeb8a" stroke-width="0.55"/>
<line x1="556.5" y1="254.2" x2="556.5" y2="316.1" stroke="#ffeb8a" stroke-width="0.55"/>
<line x1="570.55" y1="254.2" x2="570.55" y2="316.1" stroke="#ffeb8a" stroke-width="0.55"/>
<line x1="584.6" y1="254.2" x2="584.6" y2="316.1" stroke="#ffeb8a" stroke-width="0.55"/>
<line x1="598.65" y1="254.2" x2="598.65" y2="316.1" stroke="#ffeb8a" stroke-width="0.55"/>
<line x1="612.7" y1="254.2" x2="612.7" y2="316.1" stroke="#ffeb8a" stroke-width="0.55"/>
<line x1="626.75" y1="254.2" x2="626.75" y2="316.1" stroke="#ffeb8a" stroke-width="0.55"/>
<line x1="640.8" y1="254.2" x2="640.8" y2="316.1" stroke="#ffeb8a" stroke-width="0.55"/>
<line x1="654.85" y1="254.2" x2="654.85" y2="316.1" stroke="#ffeb8a" stroke-width="0.55"/>
<line x1="528.4" y1="261.94" x2="668.9" y2="261.94" stroke="#ffeb8a" stroke-width="0.55"/>
<line x1="528.4" y1="269.68" x2="668.9" y2="269.68" stroke="#ffeb8a" stroke-width="0.55"/>
<line x1="528.4" y1="277.41" x2="668.9" y2="277.41" stroke="#ffeb8a" stroke-width="0.55"/>
<line x1="528.4" y1="285.15" x2="668.9" y2="285.15" stroke="#ffeb8a" stroke-width="0.55"/>
<line x1="528.4" y1="292.89" x2="668.9" y2="292.89" stroke="#ffeb8a" stroke-width="0.55"/>
<line x1="528.4" y1="300.62" x2="668.9" y2="300.62" stroke="#ffeb8a" stroke-width="0.55"/>
<line x1="528.4" y1="308.36" x2="668.9" y2="308.36" stroke="#ffeb8a" stroke-width="0.55"/>
<g transform="translate(536.40,77) rotate(-90)" font-size="8.8" fill="#000" stroke="#000"><text x="0" y="0">622175</text><line x1="38.0" y1="0.2" x2="38.0" y2="-6.4" stroke="#000" stroke-width="0.8"/><text x="41" y="0">PA0566</text></g>
<g transform="translate(550.45,77) rotate(-90)" font-size="8.8" fill="#000" stroke="#000"><text x="0" y="0">1844998</text><line x1="38.0" y1="0.2" x2="38.0" y2="-6.4" stroke="#000" stroke-width="0.8"/><text x="41" y="0">pscP</text></g>
<g transform="translate(564.50,77) rotate(-90)" font-size="8.8" fill="#000" stroke="#000"><text x="0" y="0">2873606</text><line x1="38.0" y1="0.2" x2="38.0" y2="-6.4" stroke="#000" stroke-width="0.8"/><text x="41" y="0">PA2542</text></g>
<g transform="translate(578.55,77) rotate(-90)" font-size="8.8" fill="#000" stroke="#000"><text x="0" y="0">471466</text><line x1="38.0" y1="0.2" x2="38.0" y2="-6.4" stroke="#000" stroke-width="0.8"/><text x="41" y="0">mexR</text></g>
<g transform="translate(592.60,77) rotate(-90)" font-size="8.8" fill="#000" stroke="#000"><text x="0" y="0">1951794</text><line x1="38.0" y1="0.2" x2="38.0" y2="-6.4" stroke="#000" stroke-width="0.8"/><text x="41" y="0">parR</text></g>
<g transform="translate(606.65,77) rotate(-90)" font-size="8.8" fill="#000" stroke="#000"><text x="0" y="0">4166665</text><line x1="38.0" y1="0.2" x2="38.0" y2="-6.4" stroke="#000" stroke-width="0.8"/><text x="41" y="0">nalC</text></g>
<g transform="translate(620.70,77) rotate(-90)" font-size="8.8" fill="#000" stroke="#000"><text x="0" y="0">5365529</text><line x1="38.0" y1="0.2" x2="38.0" y2="-6.4" stroke="#000" stroke-width="0.8"/><text x="41" y="0">pmrB</text></g>
<g transform="translate(634.75,77) rotate(-90)" font-size="8.8" fill="#000" stroke="#000"><text x="0" y="0">3253933</text><line x1="38.0" y1="0.2" x2="38.0" y2="-6.4" stroke="#000" stroke-width="0.8"/><text x="41" y="0">PA2899</text></g>
<g transform="translate(648.80,77) rotate(-90)" font-size="8.8" fill="#000" stroke="#000"><text x="0" y="0">5153228</text><line x1="38.0" y1="0.2" x2="38.0" y2="-6.4" stroke="#000" stroke-width="0.8"/><text x="41" y="0">mexD</text></g>
<g transform="translate(662.85,77) rotate(-90)" font-size="8.8" fill="#000" stroke="#000"><text x="0" y="0">5365166</text><line x1="38.0" y1="0.2" x2="38.0" y2="-6.4" stroke="#000" stroke-width="0.8"/><text x="41" y="0">pmrB</text></g>
<text transform="translate(684.4,151.4) rotate(-90)" font-size="9" text-anchor="middle" fill="#000" stroke="#000">Clone <tspan font-style="italic">A</tspan></text>
<text transform="translate(684.4,237.7) rotate(-90)" font-size="9" text-anchor="middle" fill="#000" stroke="#000">Clone <tspan font-style="italic">A+B</tspan></text>
<text transform="translate(684.4,287.7) rotate(-90)" font-size="9" text-anchor="middle" fill="#000" stroke="#000">Clone <tspan font-style="italic">B</tspan></text>
<line x1="518.2" y1="87.08235294117647" x2="518.2" y2="211.31764705882352" stroke="#000" stroke-width="0.9"/>
<polyline points="458.9,238 382.4,238 382.4,264.8 513.4,264.8" fill="none" stroke="#000" stroke-width="1.5" stroke-linejoin="miter" stroke-linecap="square"/>
<polyline points="458.9,238 458.9,218.7 506.5,218.7" fill="none" stroke="#000" stroke-width="1.5" stroke-linejoin="miter" stroke-linecap="square"/>
<polyline points="506.5,226 506.5,210.8 518,210.8" fill="none" stroke="#000" stroke-width="1.5" stroke-linejoin="miter" stroke-linecap="square"/>
<polyline points="518.2,210.8 518.2,220" fill="none" stroke="#000" stroke-width="1.0" stroke-linejoin="miter" stroke-linecap="square"/>
<polyline points="513.4,258 513.4,272.5 518,272.5" fill="none" stroke="#000" stroke-width="1.5" stroke-linejoin="miter" stroke-linecap="square"/>
<rect x="514.95" y="83.83235294117647" width="6.5" height="6.5" fill="#5e4fa2" stroke="#222" stroke-width="0.6"/>
<rect x="514.95" y="91.59705882352941" width="6.5" height="6.5" fill="#5e4fa2" stroke="#222" stroke-width="0.6"/>
<rect x="514.95" y="99.36176470588235" width="6.5" height="6.5" fill="#5e4fa2" stroke="#222" stroke-width="0.6"/>
<rect x="514.95" y="107.12647058823529" width="6.5" height="6.5" fill="#5e4fa2" stroke="#222" stroke-width="0.6"/>
<circle cx="518.2" cy="118.14117647058823" r="3.3" fill="#fdb863" stroke="#1a1a1a" stroke-width="0.6"/>
<circle cx="518.2" cy="125.90588235294118" r="3.3" fill="#fdb863" stroke="#1a1a1a" stroke-width="0.6"/>
<circle cx="518.2" cy="133.67058823529413" r="3.3" fill="#fdb863" stroke="#1a1a1a" stroke-width="0.6"/>
<circle cx="518.2" cy="141.43529411764706" r="3.3" fill="#fdb863" stroke="#1a1a1a" stroke-width="0.6"/>
<circle cx="518.2" cy="149.2" r="3.3" fill="#fdb863" stroke="#1a1a1a" stroke-width="0.6"/>
<circle cx="518.2" cy="156.96470588235294" r="3.3" fill="#fdb863" stroke="#1a1a1a" stroke-width="0.6"/>
<circle cx="518.2" cy="164.7294117647059" r="3.3" fill="#fdb863" stroke="#1a1a1a" stroke-width="0.6"/>
<circle cx="518.2" cy="172.49411764705883" r="3.3" fill="#fdb863" stroke="#1a1a1a" stroke-width="0.6"/>
<circle cx="518.2" cy="180.25882352941176" r="3.3" fill="#fdb863" stroke="#1a1a1a" stroke-width="0.6"/>
<circle cx="518.2" cy="188.0235294117647" r="3.3" fill="#fdb863" stroke="#1a1a1a" stroke-width="0.6"/>
<circle cx="518.2" cy="195.78823529411767" r="3.3" fill="#fdb863" stroke="#1a1a1a" stroke-width="0.6"/>
<circle cx="518.2" cy="203.5529411764706" r="3.3" fill="#fdb863" stroke="#1a1a1a" stroke-width="0.6"/>
<rect x="514.95" y="208.06764705882352" width="6.5" height="6.5" fill="#5e4fa2" stroke="#222" stroke-width="0.6"/>
<polygon points="518.2,218.8 522.4000000000001,226.0 514.0,226.0" fill="#b4e092" stroke="#333" stroke-width="0.6"/>
<polygon points="507,225.6 511.2,232.79999999999998 502.8,232.79999999999998" fill="#b4e092" stroke="#333" stroke-width="0.6"/>
<polygon points="458.9,233.4 463.09999999999997,240.6 454.7,240.6" fill="#b4e092" stroke="#333" stroke-width="0.6"/>
<polygon points="458.9,241.20000000000002 463.09999999999997,248.4 454.7,248.4" fill="#b4e092" stroke="#333" stroke-width="0.6"/>
<polygon points="513.2,254.79999999999998 517.4000000000001,262.0 509.00000000000006,262.0" fill="#b4e092" stroke="#333" stroke-width="0.6"/>
<polygon points="518.2,262.80625 522.4000000000001,270.00625 514.0,270.00625" fill="#b4e092" stroke="#333" stroke-width="0.6"/>
<polygon points="518.2,270.54375 522.4000000000001,277.74375000000003 514.0,277.74375000000003" fill="#b4e092" stroke="#333" stroke-width="0.6"/>
<polygon points="518.2,278.28125 522.4000000000001,285.48125000000005 514.0,285.48125000000005" fill="#b4e092" stroke="#333" stroke-width="0.6"/>
<polygon points="518.2,286.01875 522.4000000000001,293.21875000000006 514.0,293.21875000000006" fill="#b4e092" stroke="#333" stroke-width="0.6"/>
<polygon points="518.2,293.75625 522.4000000000001,300.95625000000007 514.0,300.95625000000007" fill="#b4e092" stroke="#333" stroke-width="0.6"/>
<polygon points="518.2,301.49375000000003 522.4000000000001,308.6937500000001 514.0,308.6937500000001" fill="#b4e092" stroke="#333" stroke-width="0.6"/>
<polygon points="518.2,309.23125000000005 522.4000000000001,316.4312500000001 514.0,316.4312500000001" fill="#b4e092" stroke="#333" stroke-width="0.6"/>
<rect x="417.90000000000003" y="236.5" width="4.8" height="3" fill="#fff"/>
<line x1="415.5" y1="243.0" x2="420.70000000000005" y2="233.0" stroke="#000" stroke-width="1.3"/>
<line x1="419.9" y1="243.0" x2="425.1" y2="233.0" stroke="#000" stroke-width="1.3"/>
<rect x="417.90000000000003" y="263.3" width="4.8" height="3" fill="#fff"/>
<line x1="415.5" y1="269.8" x2="420.70000000000005" y2="259.8" stroke="#000" stroke-width="1.3"/>
<line x1="419.9" y1="269.8" x2="425.1" y2="259.8" stroke="#000" stroke-width="1.3"/>
<text x="447" y="295.8" font-size="9.9" font-weight="normal" font-style="normal" fill="#000" stroke="#000" text-anchor="middle" >8199 SNPs</text>
<line x1="431.3" y1="302.4" x2="459.4" y2="302.4" stroke="#222" stroke-width="1.0"/>
<text x="397.4" y="339" font-size="15.5" font-weight="bold" font-style="normal" fill="#000" stroke="#000" text-anchor="start" >D</text>
<text x="428" y="339" font-size="10" font-weight="normal" font-style="normal" fill="#000" stroke="#000" text-anchor="start" >Translocation scenarios</text>
<text x="419.8" y="381" font-size="10.6" font-weight="normal" font-style="italic" fill="#000" stroke="#000" text-anchor="start" >Lung</text>
<text x="419.8" y="408.8" font-size="10.6" font-weight="normal" font-style="italic" fill="#000" stroke="#000" text-anchor="start" >Gut</text>
<line x1="450.1" y1="391.6" x2="534.2" y2="391.6" stroke="#000" stroke-width="1.0"/>
<line x1="450.1" y1="388.5" x2="450.1" y2="394.6" stroke="#000" stroke-width="1.0"/>
<line x1="534.2" y1="388.5" x2="534.2" y2="394.6" stroke="#000" stroke-width="1.0"/>
<circle cx="466.7" cy="374.3" r="10.1" fill="#5e4fa2" stroke="#111" stroke-width="0.8"/>
<text x="466.7" y="378.3" font-size="11.3" font-weight="normal" font-style="italic" fill="#000" stroke="#000" text-anchor="middle" >A</text>
<circle cx="519" cy="374.3" r="10.1" fill="#5e4fa2" stroke="#111" stroke-width="0.8"/>
<text x="519" y="378.3" font-size="11.3" font-weight="normal" font-style="italic" fill="#000" stroke="#000" text-anchor="middle" >A</text>
<circle cx="466.4" cy="406.8" r="10.1" fill="#b4e092" stroke="#111" stroke-width="0.8"/>
<text x="466.4" y="410.8" font-size="11.3" font-weight="normal" font-style="italic" fill="#000" stroke="#000" text-anchor="middle" >B</text>
<circle cx="518" cy="406.8" r="10.1" fill="#b4e092" stroke="#111" stroke-width="0.8"/>
<text x="518" y="410.8" font-size="11.3" font-weight="normal" font-style="italic" fill="#000" stroke="#000" text-anchor="middle" >B</text>
<line x1="479.6" y1="371.8" x2="481.6" y2="357.8" stroke="#333" stroke-width="0.6"/>
<line x1="484.4" y1="375.2" x2="495.7" y2="364.8" stroke="#333" stroke-width="0.6"/>
<rect x="481.6" y="357.7" width="14.1" height="7.1" fill="#ffd800" stroke="#222" stroke-width="0.6"/>
<text x="488.65000000000003" y="362.85" font-size="4.6" font-weight="normal" font-style="italic" fill="#000" stroke="#000" text-anchor="middle" >nalC</text>
<circle cx="481.5" cy="374.3" r="3.1" fill="#5e4fa2" stroke="#222" stroke-width="0.6"/>
<text x="481.5" y="375.8" font-size="4.4" font-weight="normal" font-style="italic" fill="#000" stroke="#000" text-anchor="middle" >A</text>
<line x1="501.4" y1="408.8" x2="489.6" y2="416.4" stroke="#333" stroke-width="0.6"/>
<line x1="505.8" y1="409.2" x2="503.6" y2="424" stroke="#333" stroke-width="0.6"/>
<rect x="489.6" y="416.4" width="13.9" height="7.6" fill="#ff6a00" stroke="#222" stroke-width="0.6"/>
<text x="496.55" y="421.8" font-size="4.6" font-weight="normal" font-style="italic" fill="#000" stroke="#000" text-anchor="middle" >nalC</text>
<circle cx="503.8" cy="406.8" r="3.1" fill="#5e4fa2" stroke="#222" stroke-width="0.6"/>
<text x="503.8" y="408.3" font-size="4.4" font-weight="normal" font-style="italic" fill="#000" stroke="#000" text-anchor="middle" >A</text>
<path d="M485,374.2 C497,374.5 504,381 504.2,397" fill="none" stroke="#111" stroke-width="1.1"/>
<polygon points="504.2,401.2 502.2,395.6 506.2,395.6" fill="#111"/>
<text x="490.0" y="401.0" font-size="12" font-weight="normal" font-style="italic" fill="#000" stroke="#000" text-anchor="start" >t</text>
<line x1="419" y1="436.4" x2="437" y2="436.4" stroke="#000" stroke-width="0.9"/>
<polygon points="440.4,436.4 435.6,434.6 435.6,438.2" fill="#111"/>
<text x="444.4" y="440.1" font-size="9.4" font-weight="normal" font-style="normal" fill="#000" stroke="#000" text-anchor="start" textLength="45.3" lengthAdjust="spacingAndGlyphs">Translocation</text>
<line x1="560.6" y1="390.8" x2="665.6" y2="390.8" stroke="#000" stroke-width="1.0"/>
<line x1="560.6" y1="387.7" x2="560.6" y2="393.9" stroke="#000" stroke-width="1.0"/>
<line x1="665.6" y1="387.7" x2="665.6" y2="393.9" stroke="#000" stroke-width="1.0"/>
<line x1="616.4" y1="359.6" x2="634.5" y2="365.6" stroke="#333" stroke-width="0.6"/>
<line x1="606.3" y1="367.1" x2="622.4" y2="381.6" stroke="#333" stroke-width="0.6"/>
<circle cx="631.5" cy="375.4" r="10.1" fill="#5e4fa2" stroke="#111" stroke-width="0.8"/>
<text x="631.5" y="379.4" font-size="11.3" font-weight="normal" font-style="italic" fill="#000" stroke="#000" text-anchor="middle" >A</text>
<rect x="602.4" y="359.6" width="14" height="7.5" fill="#ffd800" stroke="#222" stroke-width="0.6"/>
<text x="609.4" y="364.95000000000005" font-size="4.6" font-weight="normal" font-style="italic" fill="#000" stroke="#000" text-anchor="middle" >nalC</text>
<circle cx="579.2" cy="407.4" r="10.1" fill="#b4e092" stroke="#111" stroke-width="0.8"/>
<text x="579.2" y="411.4" font-size="11.3" font-weight="normal" font-style="italic" fill="#000" stroke="#000" text-anchor="middle" >B</text>
<circle cx="631" cy="407.4" r="10.1" fill="#b4e092" stroke="#111" stroke-width="0.8"/>
<text x="631" y="411.4" font-size="11.3" font-weight="normal" font-style="italic" fill="#000" stroke="#000" text-anchor="middle" >B</text>
<line x1="591" y1="410" x2="593.6" y2="417.4" stroke="#333" stroke-width="0.6"/>
<line x1="596" y1="406.4" x2="607.4" y2="417.4" stroke="#333" stroke-width="0.6"/>
<rect x="593.4" y="417.4" width="14" height="7.2" fill="#ffd800" stroke="#222" stroke-width="0.6"/>
<text x="600.4" y="422.6" font-size="4.6" font-weight="normal" font-style="italic" fill="#000" stroke="#000" text-anchor="middle" >nalC</text>
<circle cx="593.2" cy="407.6" r="3.1" fill="#5e4fa2" stroke="#222" stroke-width="0.6"/>
<text x="593.2" y="409.1" font-size="4.4" font-weight="normal" font-style="italic" fill="#000" stroke="#000" text-anchor="middle" >A</text>
<line x1="643.5" y1="410" x2="646.4" y2="417.4" stroke="#333" stroke-width="0.6"/>
<line x1="648.2" y1="406.4" x2="660.4" y2="417.4" stroke="#333" stroke-width="0.6"/>
<rect x="646.4" y="417.4" width="14" height="7.2" fill="#ff6a00" stroke="#222" stroke-width="0.6"/>
<text x="653.4" y="422.6" font-size="4.6" font-weight="normal" font-style="italic" fill="#000" stroke="#000" text-anchor="middle" >nalC</text>
<circle cx="645.3" cy="407.6" r="3.1" fill="#5e4fa2" stroke="#222" stroke-width="0.6"/>
<text x="645.3" y="409.1" font-size="4.4" font-weight="normal" font-style="italic" fill="#000" stroke="#000" text-anchor="middle" >A</text>
<path d="M596.4,407.8 C612,407 626.5,401 628.4,390" fill="none" stroke="#111" stroke-width="1.1"/>
<polygon points="628.9,385.9 626.0,391.2 630.4,391.8" fill="#000"/>
<text x="610.4" y="400.8" font-size="12" font-weight="normal" font-style="italic" fill="#000" stroke="#000" text-anchor="start" >t</text>
</svg>
</body></html>
